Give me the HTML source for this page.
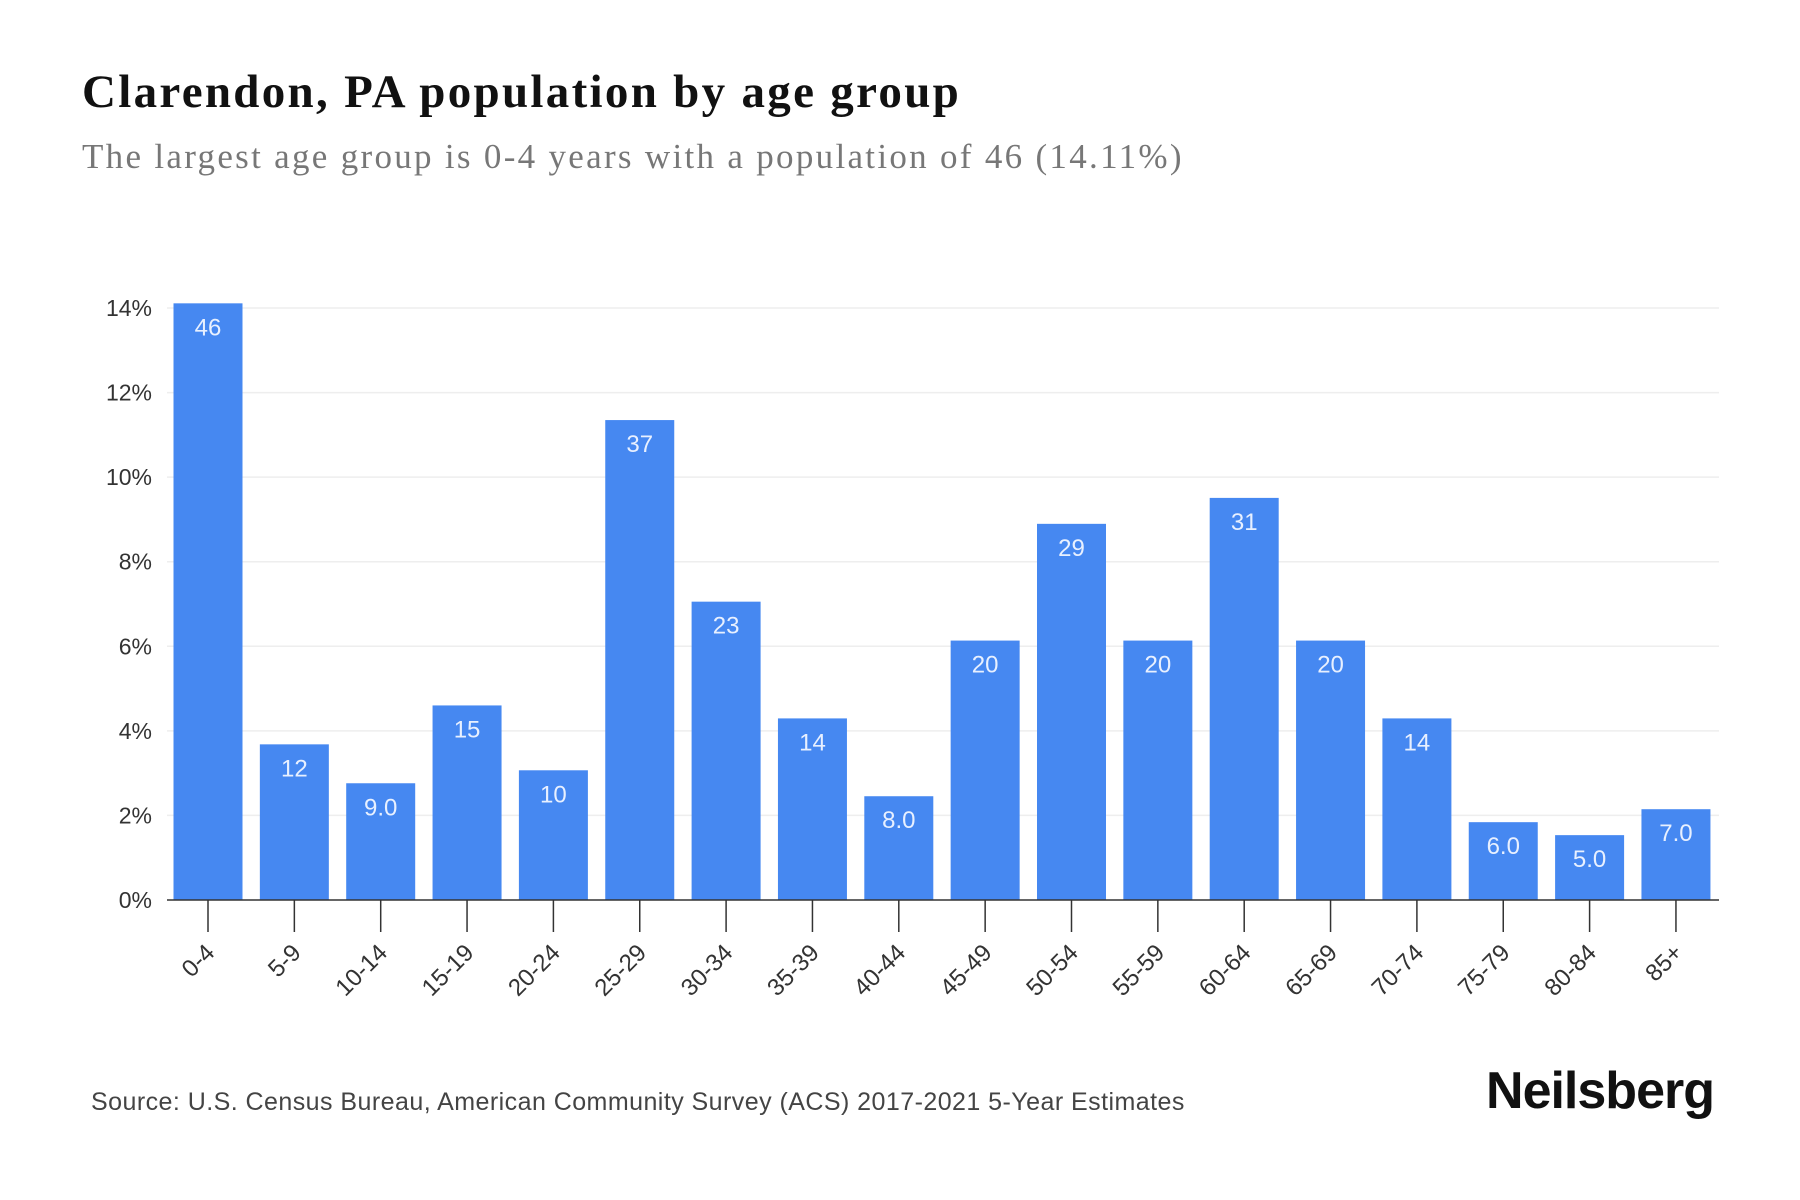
<!DOCTYPE html>
<html><head><meta charset="utf-8"><style>
body{margin:0;background:#fff;width:1800px;height:1200px;overflow:hidden}
svg{display:block}
</style></head><body>
<svg id="chart" width="1800" height="1200" xmlns="http://www.w3.org/2000/svg">
<text x="82" y="107" font-family="Liberation Serif, serif" font-weight="bold" font-size="47" fill="#111" letter-spacing="2.3">Clarendon, PA population by age group</text>
<text x="82" y="168" font-family="Liberation Serif, serif" font-size="35" fill="#777" letter-spacing="2.3">The largest age group is 0-4 years with a population of 46 (14.11%)</text>
<g id="grid"></g><g id="bars"></g><g id="xaxis"></g>
<text x="91" y="1110" font-family="Liberation Sans, sans-serif" font-size="25" fill="#444" letter-spacing="0.45">Source: U.S. Census Bureau, American Community Survey (ACS) 2017-2021 5-Year Estimates</text>
<text x="1714" y="1108" text-anchor="end" font-family="Liberation Sans, sans-serif" font-weight="bold" font-size="52" fill="#111" letter-spacing="-1">Neilsberg</text>
</svg>
<script>
const categories=["0-4","5-9","10-14","15-19","20-24","25-29","30-34","35-39","40-44","45-49","50-54","55-59","60-64","65-69","70-74","75-79","80-84","85+"];
const populations=[46,12,9,15,10,37,23,14,8,20,29,20,31,20,14,6,5,7];
const yTicks=[0,2,4,6,8,10,12,14];
const NS="http://www.w3.org/2000/svg";
const total=populations.reduce((a,b)=>a+b,0);
const y0=900,y14=308,xL=167,xR=1719,first=208,pitch=86.35,bw=69;
function y(p){return y0-(p/14)*(y0-y14);}
function x(i){return first+i*pitch;}
function mk(tag,attrs,parent){const e=document.createElementNS(NS,tag);for(const k in attrs)e.setAttribute(k,attrs[k]);parent.appendChild(e);return e;}
const grid=document.getElementById('grid'),bars=document.getElementById('bars'),xa=document.getElementById('xaxis');
yTicks.forEach(t=>{
 if(t>0){const l=mk('line',{x1:xL,x2:xR,y1:y(t),y2:y(t),stroke:'#eee','stroke-width':1.5},grid);
 
 }
 const tx=mk('text',{x:152,y:y(t)+8,'text-anchor':'end','font-family':'Liberation Sans, sans-serif','font-size':23,fill:'#333'},grid);
 tx.textContent=t+'%';
 
 
});
populations.forEach((v,i)=>{
 const p=v/total*100,top=y(p);
 const r=mk('rect',{x:x(i)-bw/2,y:top,width:bw,height:y0-top,fill:'#4688f1'},bars);
 
 
 const t=mk('text',{x:x(i),y:top+32,'text-anchor':'middle','font-family':'Liberation Sans, sans-serif','font-size':24,fill:'#e8f0ff'},bars);
 t.textContent=v<10?v.toFixed(1):String(v);
 
 
 const tk=mk('line',{x1:x(i),x2:x(i),y1:y0,y2:y0+32,stroke:'#333','stroke-width':1.5},xa);
 
 
 const lb=mk('text',{x:0,y:0,'text-anchor':'end','font-family':'Liberation Sans, sans-serif','font-size':24,fill:'#333',transform:`translate(${x(i)+8},${y0+54}) rotate(-45)`},xa);
 lb.textContent=categories[i];
 
 
});
const ax=mk('line',{x1:xL,x2:xR,y1:y0,y2:y0,stroke:'#333','stroke-width':1.5},xa);


</script>
</body></html>
